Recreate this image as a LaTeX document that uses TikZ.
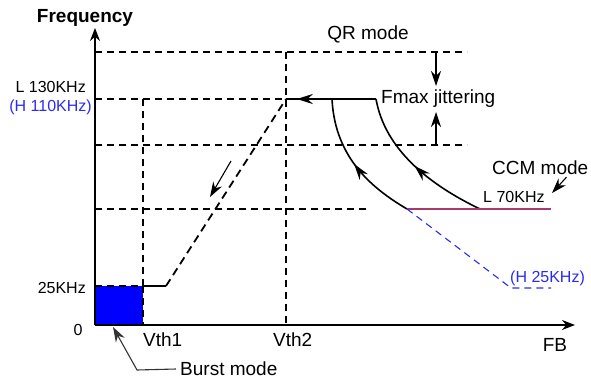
\documentclass[tikz,border=0pt]{standalone}
\usepackage{fontspec}
\setmainfont{Liberation Sans}
\usetikzlibrary{arrows.meta,positioning,decorations.markings}
\definecolor{lowBlue}{HTML}{2B2BF0}
\definecolor{burstFill}{HTML}{0000FF}
\definecolor{ccmLine}{HTML}{A8386E}

\begin{document}
\begin{tikzpicture}[x=1pt, y=-1pt,
    axis/.style={line width=1.6pt, -{Stealth[length=13pt, width=10pt]}},
    guide/.style={line width=1.1pt, dash pattern=on 7pt off 5pt},
    ramp/.style={line width=1.8pt, dash pattern=on 8pt off 5pt},
    curve/.style={line width=1.6pt},
    flow/.style={line width=1.1pt, -{Stealth[length=15pt, width=10pt]}},
    midarrow/.style={postaction={decorate}, decoration={markings,
        mark=at position #1 with {\arrow{Stealth[length=16pt, width=10pt]}}}},
    val/.style={inner sep=0pt, font=\fontsize{16}{19}\selectfont},
    lbl/.style={inner sep=0pt, font=\fontsize{19}{22}\selectfont}
  ]
  \useasboundingbox (0,0) rectangle (591,380);

  % axes
  \coordinate (O) at (95,325);
  \coordinate (ytop) at (95,28);
  \coordinate (xend) at (575,325);

  % burst region
  \fill[burstFill] (95,286) rectangle (143,325);
  \draw[guide] (95,286) -- (143,286) (143,286) -- (143,325);

  % level and threshold guides
  \draw[guide] (95,52) -- (467,52);
  \draw[guide] (95,99) -- (286,99);
  \draw[guide] (95,145) -- (467,145);
  \draw[guide] (95,209) -- (367,209);
  \draw[guide] (143,99) -- (143,286);
  \draw[guide] (286,52) -- (286,325);

  \draw[axis] (O) -- (ytop);
  \draw[axis] (O) -- (xend);

  % frequency curve
  \coordinate (b1) at (143,286);
  \coordinate (b2) at (166,286);
  \coordinate (top) at (286,99);
  \coordinate (inner) at (332,99);
  \coordinate (outer) at (376,99);
  \coordinate (ccmA) at (407,209);
  \coordinate (ccmB) at (480,209);
  \coordinate (ccmEnd) at (551,209);
  \coordinate (hLow) at (511,288);
  \coordinate (hEnd) at (551,288);

  \draw[curve] (b1) -- (b2);
  \draw[ramp] (b2) -- (top);
  \draw[curve, midarrow=0.88] (outer) -- (top);
  \draw[curve, midarrow=0.5] (ccmA) .. controls (375,190) and (335,160) .. (inner);
  \draw[curve, midarrow=0.5] (ccmB) .. controls (430,185) and (385,150) .. (outer);
  \draw[ccmLine, line width=1.6pt] (ccmA) -- (ccmEnd);
  \draw[lowBlue, line width=1.1pt, dash pattern=on 7pt off 5pt] (ccmA) -- (hLow) -- (hEnd);

  % direction and jitter arrows
  \coordinate (dn1) at (231,161);
  \coordinate (dn2) at (210,197);
  \draw[flow] (dn1) -- (dn2);
  \coordinate (j1) at (436,52);
  \coordinate (j2) at (436,86);
  \coordinate (j3) at (436,145);
  \coordinate (j4) at (436,112);
  \draw[flow] (j1) -- (j2);
  \draw[flow] (j3) -- (j4);

  % labels
  \node[inner sep=0pt, font=\fontsize{19}{22}\selectfont\bfseries] (freq) at (85,18) {Frequency};
  \node[val, anchor=east] (f130) at (86,87) {L 130KHz};
  \node[val, anchor=east, text=lowBlue] (f110) at (92,107) {(H 110KHz)};
  \node[val, anchor=east] (f25) at (86,288) {25KHz};
  \node[val] (zero) at (78,330) {0};
  \node[lbl, anchor=west] (vth1) at (143,340) {Vth1};
  \node[lbl, anchor=west] (vth2) at (273,340) {Vth2};
  \node[lbl] (fb) at (555,345) {FB};
  \node[lbl] (qr) at (368,34) {QR mode};
  \node[lbl, anchor=west] (fmax) at (381,99) {Fmax jittering};
  \node[lbl, anchor=west] (ccm) at (492,168) {CCM mode};
  \node[val, anchor=west] (f70) at (483,197) {L 70KHz};
  \node[val, anchor=west, text=lowBlue] (fh25) at (510,278) {(H 25KHz)};
  \node[lbl, anchor=west] (burst) at (180,369) {Burst mode};

  \coordinate (ccmTip) at (552,193);
  \draw[flow] (ccm.south east) ++(-22,2) -- (ccmTip);
  \coordinate (bend) at (137,370);
  \coordinate (burstTip) at (113,327);
  \draw[flow, draw=black!80] (burst.west) ++(-4,0) -- (bend) -- (burstTip);
\end{tikzpicture}
\end{document}
